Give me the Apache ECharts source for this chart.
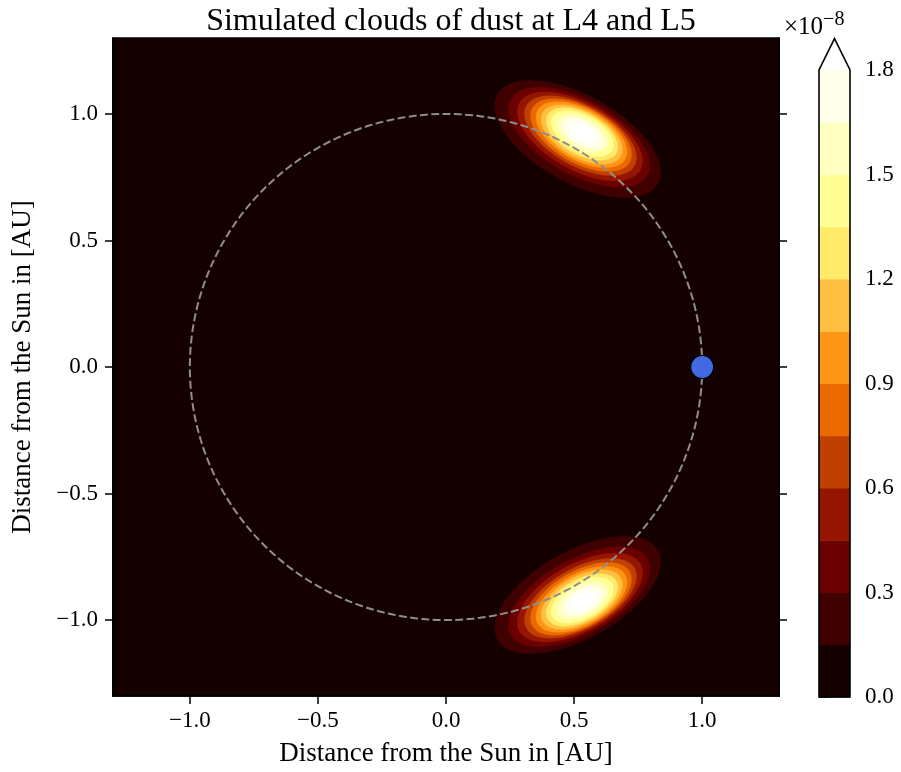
<!DOCTYPE html>
<html>
<head>
<meta charset="utf-8">
<script src="https://cdn.jsdelivr.net/npm/echarts@6/dist/echarts.min.js"></script>
<style>
  html, body { margin: 0; padding: 0; background: #ffffff; }
  #chart { width: 901px; height: 772px; }
</style>
</head>
<body>
<div id="chart"></div>
<script>
// Tick positions (AU) for both spatial axes
const axisTicks = [-1.0, -0.5, 0.0, 0.5, 1.0];

// Colorbar ticks and filled-contour levels, in units of 1e-8
const colorbarTicks = [0.0, 0.3, 0.6, 0.9, 1.2, 1.5, 1.8];
const bandEdges = [0.0, 0.15, 0.30, 0.45, 0.60, 0.75, 0.90, 1.05, 1.20, 1.35, 1.50, 1.65, 1.80];
const contourLevels = [0.15, 0.30, 0.45, 0.60, 0.75, 0.90, 1.05, 1.20, 1.35, 1.50, 1.65, 1.80];

// afmhot bands: 12 levels below 1.8 plus the "over" colour
const bandColors = [
  '#150000', '#400000', '#6a0000', '#951500', '#bf4000', '#ea6a00',
  '#ff9515', '#ffbf40', '#ffea6a', '#ffff95', '#ffffbf', '#ffffea', '#ffffff'
];

// L4 cloud: one ellipse per contour level (centre, semi-axes in AU, tilt in degrees)
const l4CenterX   = [0.514, 0.520, 0.523, 0.525, 0.527, 0.529, 0.530, 0.531, 0.532, 0.533, 0.534, 0.534];
const l4CenterY   = [0.901, 0.908, 0.911, 0.914, 0.916, 0.918, 0.919, 0.921, 0.922, 0.923, 0.924, 0.924];
const l4SemiMajor = [0.359, 0.306, 0.271, 0.242, 0.218, 0.196, 0.175, 0.154, 0.134, 0.112, 0.088, 0.057];
const l4SemiMinor = [0.172, 0.147, 0.132, 0.119, 0.110, 0.101, 0.092, 0.082, 0.072, 0.060, 0.048, 0.031];
const l4Tilt = -29.5;

// L5 cloud
const l5CenterX   = [0.514, 0.520, 0.523, 0.525, 0.527, 0.529, 0.530, 0.531, 0.532, 0.533, 0.534, 0.534];
const l5CenterY   = [-0.901, -0.908, -0.911, -0.914, -0.916, -0.918, -0.919, -0.921, -0.922, -0.923, -0.924, -0.924];
const l5SemiMajor = [0.359, 0.306, 0.271, 0.242, 0.218, 0.196, 0.175, 0.154, 0.134, 0.112, 0.088, 0.057];
const l5SemiMinor = [0.172, 0.147, 0.132, 0.119, 0.110, 0.101, 0.092, 0.082, 0.072, 0.060, 0.048, 0.031];
const l5Tilt = 29.5;

// Earth's orbit radius (AU) and Earth's position
const orbitRadius = 1.0;
const earthPosition = [[1.0, 0.0]];

const FONT = 'Liberation Serif';
const fmt = v => v.toFixed(1).replace('-', '\u2212');

function cloudData(cx, cy, major, minor, tilt) {
  return contourLevels.map((lvl, i) => [cx[i], cy[i], major[i], minor[i], tilt, i + 1]);
}

// One filled contour level drawn as a tilted ellipse in data space
function renderEllipse(params, api) {
  const cx = api.value(0), cy = api.value(1);
  const a = api.value(2), b = api.value(3);
  const t = api.value(4) * Math.PI / 180;
  const ci = api.value(5);
  const pts = [];
  const n = 180;
  for (let i = 0; i < n; i++) {
    const phi = (i / n) * Math.PI * 2;
    const u = a * Math.cos(phi), v = b * Math.sin(phi);
    pts.push(api.coord([cx + u * Math.cos(t) - v * Math.sin(t), cy + u * Math.sin(t) + v * Math.cos(t)]));
  }
  return { type: 'polygon', shape: { points: pts }, style: { fill: bandColors[ci], stroke: bandColors[ci], lineWidth: 0.3 } };
}

// Earth's orbit as a dashed circle
function renderOrbit(params, api) {
  const r = api.value(0);
  const pts = [];
  const n = 360;
  for (let i = 0; i <= n; i++) {
    const phi = (i / n) * Math.PI * 2;
    pts.push(api.coord([r * Math.cos(phi), r * Math.sin(phi)]));
  }
  return {
    type: 'polyline', shape: { points: pts },
    style: { stroke: '#8e8e8e', lineWidth: 2, lineDash: [7.9, 3.4], fill: null }
  };
}

// Colorbar band between two levels
function renderBand(params, api) {
  const lo = api.value(0), hi = api.value(1), ci = api.value(2);
  const p0 = api.coord([0, lo]);
  const p1 = api.coord([1, hi]);
  return {
    type: 'rect',
    shape: { x: p0[0], y: p1[1], width: p1[0] - p0[0], height: p0[1] - p1[1] + 0.5 },
    style: { fill: bandColors[ci] }
  };
}

// "Over" triangle on top of the colorbar plus the outline
function renderExtend(params, api) {
  const top = api.value(0);
  const bl = api.coord([0, 0]);
  const tl = api.coord([0, top]);
  const tr = api.coord([1, top]);
  const ext = 0.05 * (bl[1] - tl[1]);
  const tip = [(tl[0] + tr[0]) / 2, tl[1] - ext];
  const br = [tr[0], bl[1]];
  return {
    type: 'group',
    children: [
      { type: 'polygon', shape: { points: [tl, tip, tr] }, style: { fill: bandColors[12] } },
      { type: 'polygon', shape: { points: [bl, tl, tip, tr, br] }, style: { fill: null, stroke: '#000', lineWidth: 1.6 } }
    ]
  };
}

const bandData = bandEdges.slice(0, -1).map((lo, i) => [lo, bandEdges[i + 1], i]);

const tickLabelStyle = { fontFamily: FONT, fontSize: 23, color: '#000' };
const axisNameStyle = { fontFamily: FONT, fontSize: 27, color: '#000' };
const tickStyle = { show: true, inside: false, length: 8, lineStyle: { color: '#000', width: 1.5 } };

const chart = echarts.init(document.getElementById('chart'), null, { renderer: 'canvas' });
chart.setOption({
  animation: false,
  backgroundColor: '#ffffff',
  title: [
    {
      text: 'Simulated clouds of dust at L4 and L5',
      left: 446, top: 1, textAlign: 'center',
      textStyle: { fontFamily: FONT, fontSize: 32, fontWeight: 'normal', color: '#000' }
    },
    {
      text: '{a|\u00d710}{b|\u22128}',
      left: 779, top: 5,
      textStyle: {
        fontWeight: 'normal',
        rich: {
          a: { fontFamily: FONT, fontSize: 25, fontWeight: 'normal', color: '#000', verticalAlign: 'bottom', lineHeight: 30 },
          b: { fontFamily: FONT, fontSize: 20, fontWeight: 'normal', color: '#000', verticalAlign: 'top', lineHeight: 17 }
        }
      }
    }
  ],
  grid: [
    { left: 113, top: 38, width: 666, height: 659, show: true, backgroundColor: bandColors[0], borderColor: '#000', borderWidth: 1.7, containLabel: false },
    { left: 819, top: 70, width: 31, height: 627, show: false, containLabel: false }
  ],
  xAxis: [
    {
      gridIndex: 0, type: 'value', min: -1.3, max: 1.3,
      splitLine: { show: false },
      axisLine: { show: true, onZero: false, lineStyle: { color: '#000', width: 1.7 } },
      axisTick: Object.assign({ customValues: axisTicks }, tickStyle),
      axisLabel: Object.assign({ margin: 13, formatter: fmt, customValues: axisTicks }, tickLabelStyle),
      name: 'Distance from the Sun in [AU]', nameLocation: 'middle', nameGap: 44,
      nameTextStyle: axisNameStyle
    },
    { gridIndex: 1, type: 'value', min: 0, max: 1, show: false }
  ],
  yAxis: [
    {
      gridIndex: 0, type: 'value', min: -1.3, max: 1.3, position: 'left',
      splitLine: { show: false },
      axisLine: { show: true, onZero: false, lineStyle: { color: '#000', width: 1.7 } },
      axisTick: Object.assign({ customValues: axisTicks }, tickStyle),
      axisLabel: Object.assign({ margin: 15, formatter: fmt, customValues: axisTicks }, tickLabelStyle),
      name: 'Distance from the Sun in [AU]', nameLocation: 'middle', nameGap: 77, nameRotate: 90,
      nameTextStyle: axisNameStyle
    },
    {
      gridIndex: 0, type: 'value', min: -1.3, max: 1.3, position: 'right',
      splitLine: { show: false },
      axisLine: { show: true, onZero: false, lineStyle: { color: '#000', width: 1.7 } },
      axisTick: Object.assign({ customValues: axisTicks }, tickStyle),
      axisLabel: { show: false }
    },
    {
      gridIndex: 1, type: 'value', min: 0, max: 1.8, interval: 0.3, position: 'right',
      splitLine: { show: false },
      axisLine: { show: false },
      axisTick: tickStyle,
      axisLabel: Object.assign({ margin: 15, formatter: v => v.toFixed(1), customValues: colorbarTicks }, tickLabelStyle)
    }
  ],
  series: [
    {
      name: 'L4 cloud', type: 'custom', xAxisIndex: 0, yAxisIndex: 0, clip: true, z: 1,
      renderItem: renderEllipse, data: cloudData(l4CenterX, l4CenterY, l4SemiMajor, l4SemiMinor, l4Tilt)
    },
    {
      name: 'L5 cloud', type: 'custom', xAxisIndex: 0, yAxisIndex: 0, clip: true, z: 1,
      renderItem: renderEllipse, data: cloudData(l5CenterX, l5CenterY, l5SemiMajor, l5SemiMinor, l5Tilt)
    },
    {
      name: 'Orbit', type: 'custom', xAxisIndex: 0, yAxisIndex: 0, clip: true, z: 2,
      renderItem: renderOrbit, data: [[orbitRadius, 0]]
    },
    {
      name: 'Earth', type: 'scatter', xAxisIndex: 0, yAxisIndex: 0, z: 3,
      symbol: 'circle', symbolSize: 23,
      itemStyle: { color: '#4169e1', borderColor: '#000', borderWidth: 1.2, opacity: 1 },
      data: earthPosition
    },
    {
      name: 'Colorbar', type: 'custom', xAxisIndex: 1, yAxisIndex: 2, clip: false, z: 1,
      renderItem: renderBand, data: bandData
    },
    {
      name: 'Colorbar extend', type: 'custom', xAxisIndex: 1, yAxisIndex: 2, clip: false, z: 2,
      renderItem: renderExtend, data: [[bandEdges[bandEdges.length - 1], 0]]
    }
  ]
});
</script>
</body>
</html>
